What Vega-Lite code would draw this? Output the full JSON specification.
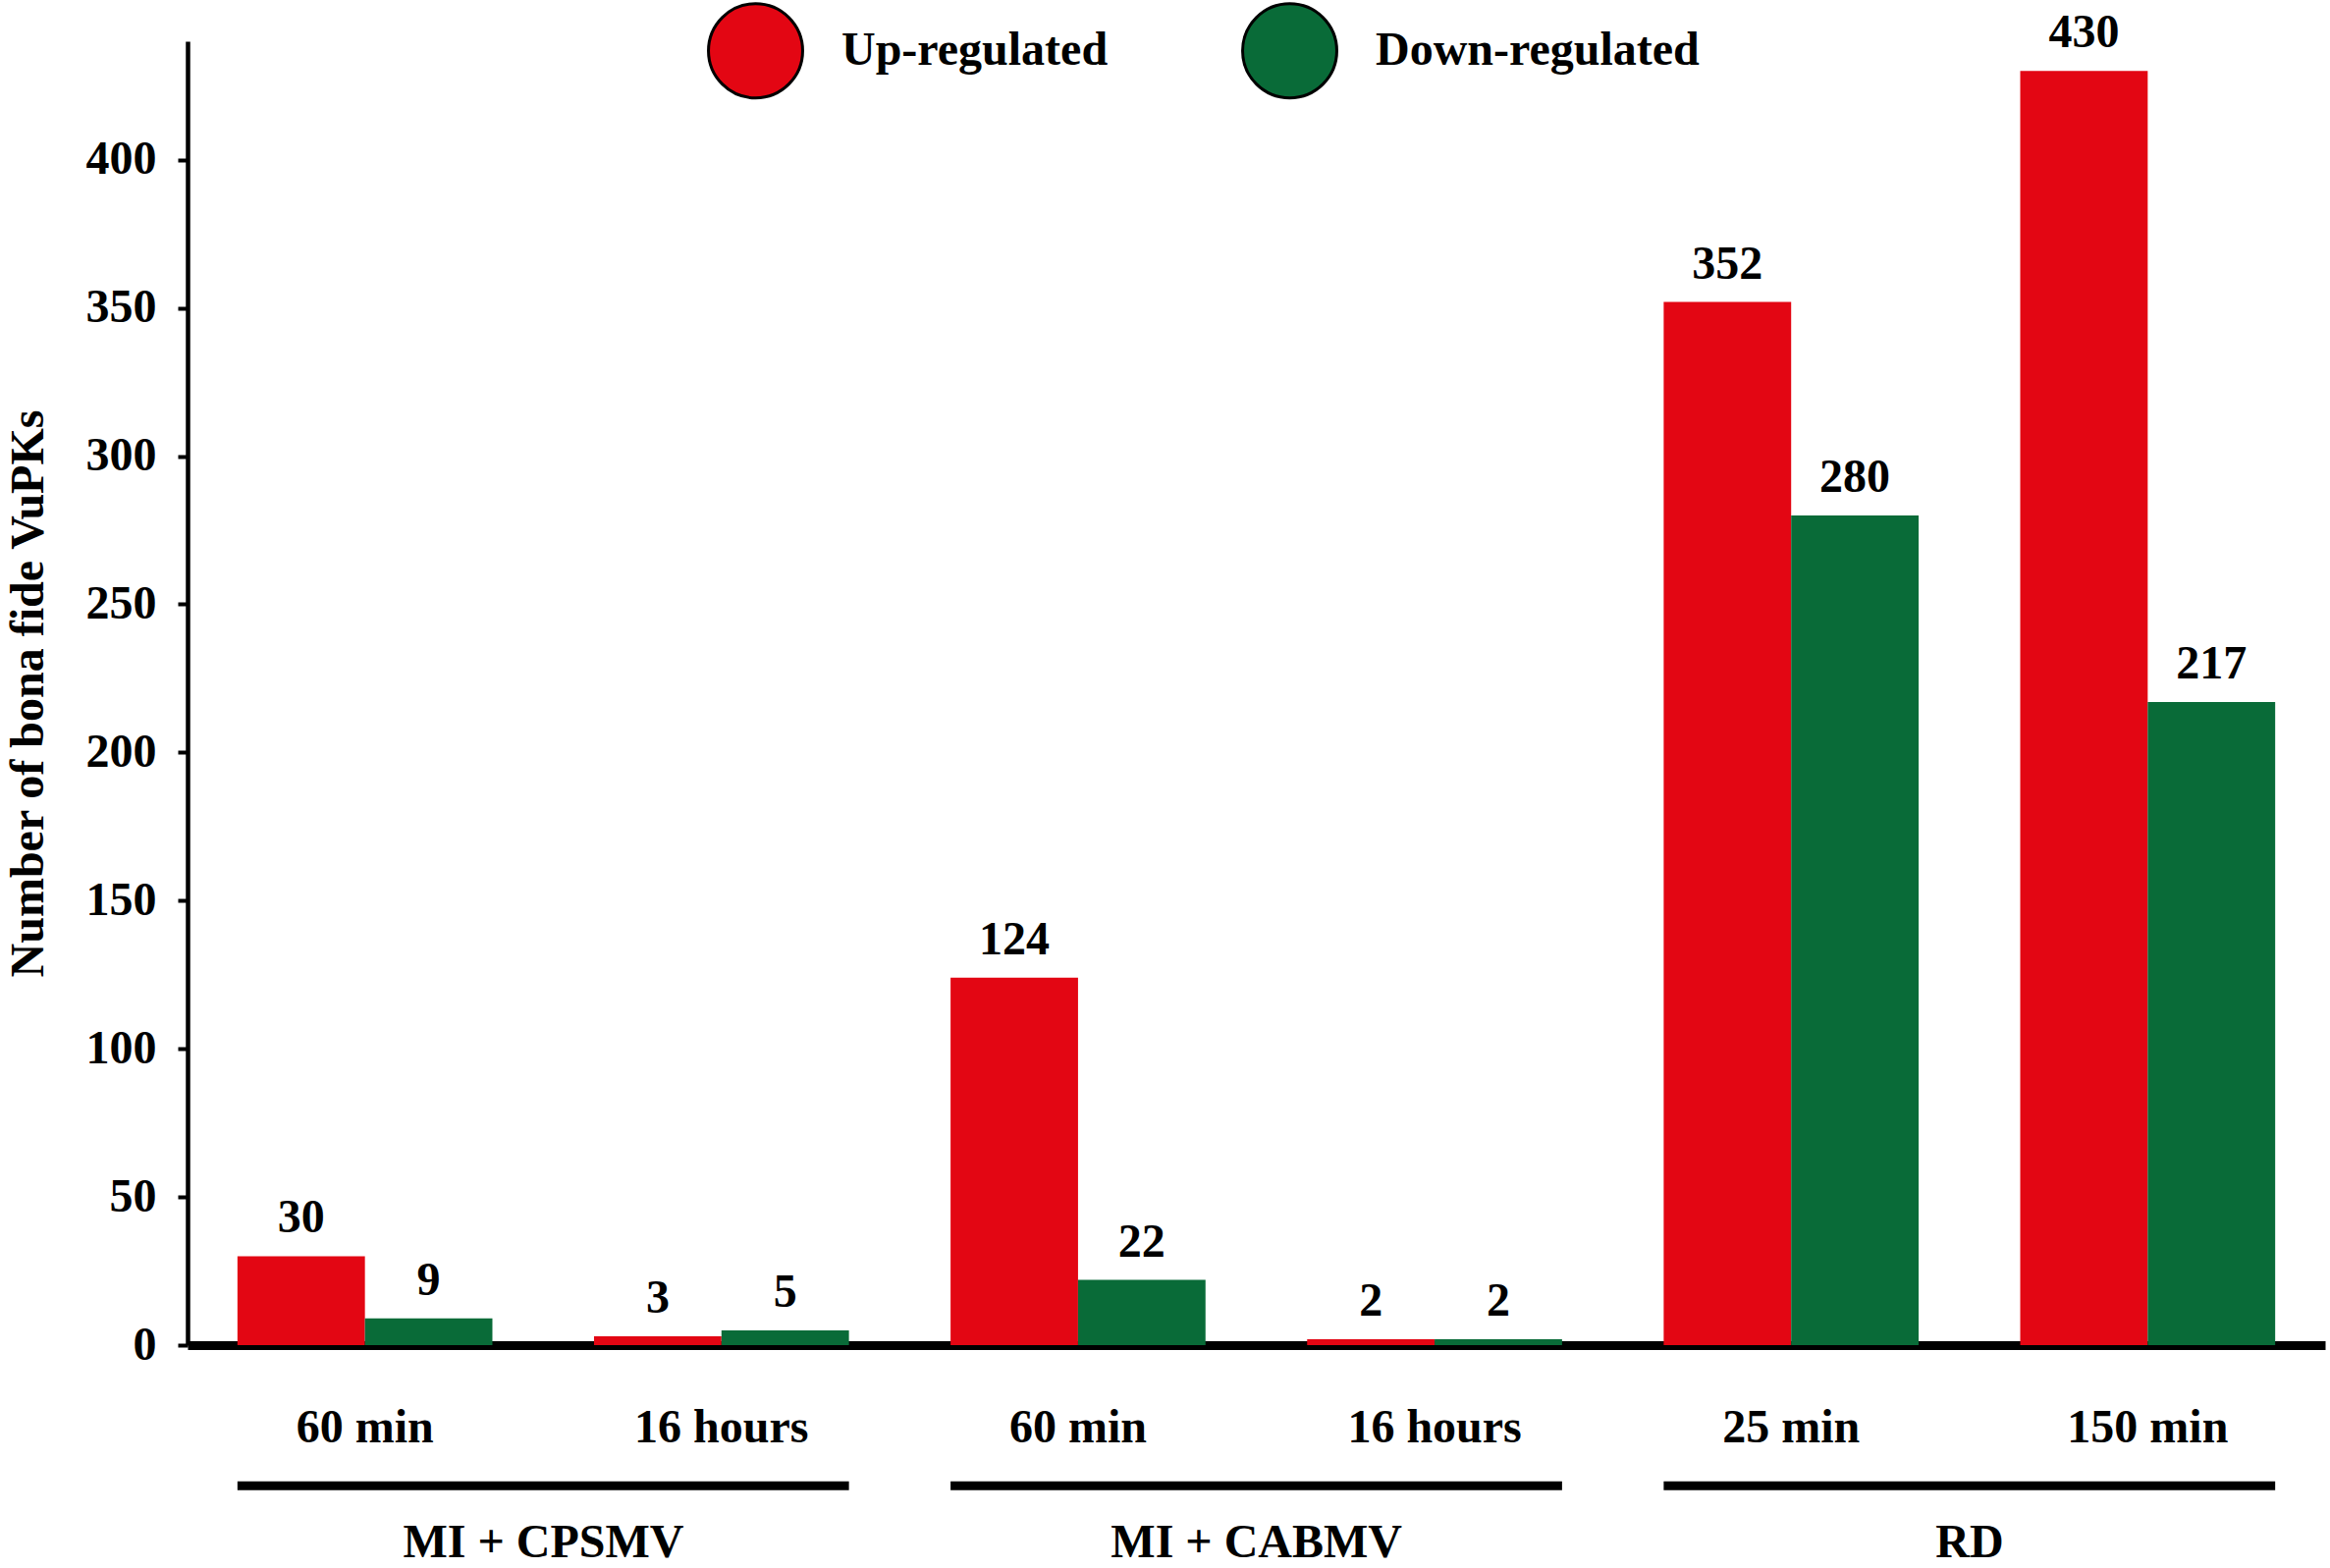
{
  "$schema": "https://vega.github.io/schema/vega-lite/v6.json",
  "width": 2177,
  "height": 1328,
  "autosize": {"type": "none"},
  "padding": {"left": 191, "top": 42, "right": 5, "bottom": 227},
  "background": "white",
  "config": {
    "view": {"stroke": null},
    "font": "Liberation Serif",
    "axis": {"titleFont": "Liberation Serif", "titleFontWeight": "bold", "titleFontSize": 48, "titleColor": "black"},
    "text": {"font": "Liberation Serif", "fontWeight": "bold", "fontSize": 48, "color": "black"}
  },
  "datasets": {
    "counts": [
      {"cond": "MI + CPSMV|60 min", "type": "Up-regulated", "n": 30},
      {"cond": "MI + CPSMV|60 min", "type": "Down-regulated", "n": 9},
      {"cond": "MI + CPSMV|16 hours", "type": "Up-regulated", "n": 3},
      {"cond": "MI + CPSMV|16 hours", "type": "Down-regulated", "n": 5},
      {"cond": "MI + CABMV|60 min", "type": "Up-regulated", "n": 124},
      {"cond": "MI + CABMV|60 min", "type": "Down-regulated", "n": 22},
      {"cond": "MI + CABMV|16 hours", "type": "Up-regulated", "n": 2},
      {"cond": "MI + CABMV|16 hours", "type": "Down-regulated", "n": 2},
      {"cond": "RD|25 min", "type": "Up-regulated", "n": 352},
      {"cond": "RD|25 min", "type": "Down-regulated", "n": 280},
      {"cond": "RD|150 min", "type": "Up-regulated", "n": 430},
      {"cond": "RD|150 min", "type": "Down-regulated", "n": 217}
    ],
    "groups": [
      {"group": "MI + CPSMV", "first": "MI + CPSMV|60 min", "last": "MI + CPSMV|16 hours"},
      {"group": "MI + CABMV", "first": "MI + CABMV|60 min", "last": "MI + CABMV|16 hours"},
      {"group": "RD", "first": "RD|25 min", "last": "RD|150 min"}
    ]
  },
  "layer": [
    {
      "data": {"name": "counts"},
      "mark": {"type": "bar"},
      "encoding": {
        "x": {
          "field": "cond",
          "type": "nominal",
          "title": null,
          "scale": {
            "domain": ["MI + CPSMV|60 min", "MI + CPSMV|16 hours", "MI + CABMV|60 min", "MI + CABMV|16 hours", "RD|25 min", "RD|150 min"],
            "paddingInner": 0.285,
            "paddingOuter": 0.14
          },
          "axis": {
            "labelExpr": "split(datum.label, '|')[1]",
            "labelAngle": 0,
            "labelFont": "Liberation Serif",
            "labelFontWeight": "bold",
            "labelFontSize": 48,
            "labelColor": "black",
            "labelPadding": 60,
            "ticks": false,
            "domainColor": "black",
            "domainWidth": 9
          }
        },
        "xOffset": {"field": "type", "type": "nominal", "sort": ["Up-regulated", "Down-regulated"], "scale": {"paddingInner": 0}},
        "y": {
          "field": "n",
          "type": "quantitative",
          "title": "Number of bona fide VuPKs",
          "scale": {"domain": [0, 440], "nice": false},
          "axis": {
            "titleFont": "Liberation Serif",
            "titleFontWeight": "bold",
            "titleFontSize": 48,
            "titleColor": "black",
            "titlePadding": 34,
            "values": [0, 50, 100, 150, 200, 250, 300, 350, 400],
            "grid": false,
            "labelFont": "Liberation Serif",
            "labelFontWeight": "bold",
            "labelFontSize": 48,
            "labelColor": "black",
            "labelPadding": 22,
            "tickSize": 10,
            "tickWidth": 4,
            "tickColor": "black",
            "domainColor": "black",
            "domainWidth": 4.5
          }
        },
        "color": {
          "field": "type",
          "type": "nominal",
          "scale": {"domain": ["Up-regulated", "Down-regulated"], "range": ["#E30613", "#096B38"]},
          "legend": {
            "title": null,
            "orient": "none",
            "legendX": 529,
            "legendY": -40,
            "direction": "horizontal",
            "padding": 0,
            "symbolType": "circle",
            "symbolSize": 9200,
            "symbolStrokeColor": "black",
            "symbolStrokeWidth": 3,
            "symbolOpacity": 1,
            "labelFont": "Liberation Serif",
            "labelFontWeight": "bold",
            "labelFontSize": 48,
            "labelColor": "black",
            "labelOffset": 38,
            "columnPadding": 130,
            "labelLimit": 600
          }
        }
      }
    },
    {
      "data": {"name": "counts"},
      "mark": {"type": "text", "baseline": "bottom", "dy": -14},
      "encoding": {
        "x": {"field": "cond", "type": "nominal", "title": null},
        "xOffset": {"field": "type", "type": "nominal", "sort": ["Up-regulated", "Down-regulated"]},
        "y": {"field": "n", "type": "quantitative", "title": "Number of bona fide VuPKs"},
        "text": {"field": "n", "type": "quantitative"}
      }
    },
    {
      "data": {"name": "groups"},
      "mark": {"type": "rule", "strokeWidth": 9, "color": "black", "strokeCap": "butt"},
      "encoding": {
        "x": {"field": "first", "type": "nominal", "bandPosition": 0, "title": null},
        "x2": {"field": "last", "bandPosition": 1},
        "y": {"datum": -47.5, "title": "Number of bona fide VuPKs"}
      }
    },
    {
      "data": {"name": "groups"},
      "mark": {"type": "text", "baseline": "middle", "align": "center"},
      "encoding": {
        "x": {"field": "first", "type": "nominal", "bandPosition": 1.2, "title": null},
        "y": {"datum": -66.8, "title": "Number of bona fide VuPKs"},
        "text": {"field": "group", "type": "nominal"}
      }
    }
  ]
}
